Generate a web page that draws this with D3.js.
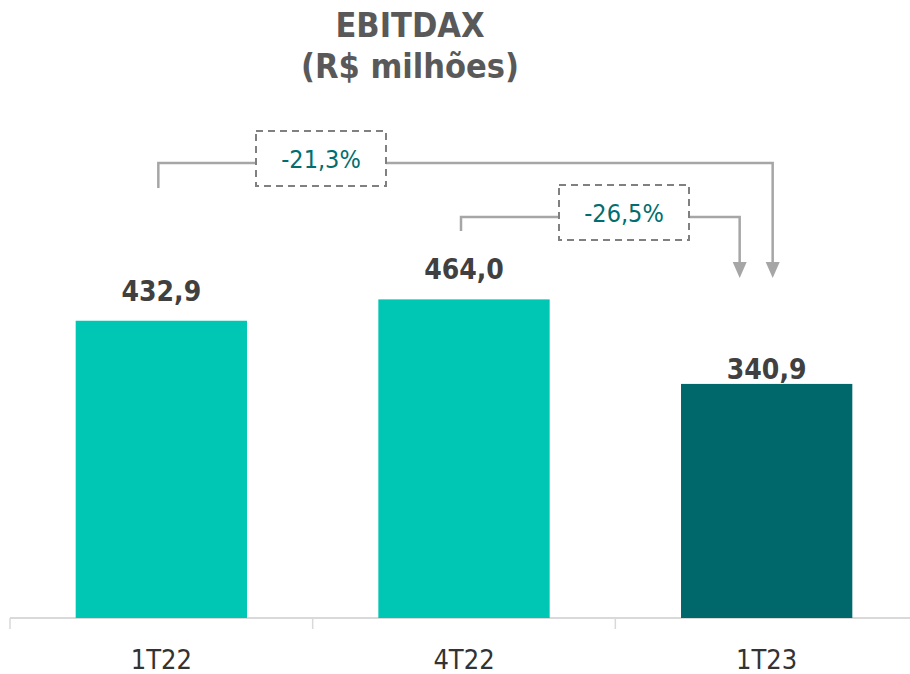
<!DOCTYPE html>
<html>
<head>
<meta charset="utf-8">
<script src="https://cdn.jsdelivr.net/npm/d3@7"></script>
<style>
    body { margin: 0; background: #fff; }
    text { font-family: "DejaVu Sans Condensed", "DejaVu Sans", sans-serif; font-stretch: condensed; }
</style>
</head>
<body>
<div id="plot"></div>
<script>
var categories = ["1T22", "4T22", "1T23"];
var values = [432.9, 464.0, 340.9];
var valueLabels = ["432,9", "464,0", "340,9"];
var changeLabels = ["-21,3%", "-26,5%"];   // 1T22 -> 1T23, 4T22 -> 1T23
var titleLines = ["EBITDAX", "(R$ milhões)"];

var W = 910, H = 674
    , baseY = 618
    , light = "#00c7b4"
    , dark = "#00686b";

var svg = d3.select("#plot").append("svg")
    .attr("width", W)
    .attr("height", H);

var x = d3.scaleBand()
    .domain(categories)
    .range([10, 918])
    .padding(0);

var barW = x.bandwidth() * 0.566;

var y = d3.scaleLinear()
    .domain([0, 900])
    .range([baseY, 0]);

function cx(c) { return x(c) + x.bandwidth() / 2; }

// title
svg.append("g").selectAll("text")
    .data(titleLines)
    .enter().append("text")
    .attr("x", 410)
    .attr("y", function (d, i) { return 37 + i * 41; })
    .attr("text-anchor", "middle")
    .style("font-size", "34px")
    .style("font-weight", "bold")
    .style("fill", "#595959")
    .text(function (d) { return d; });

// axis
var xAxis = d3.axisBottom(x).tickSize(10).tickFormat("");
var axisG = svg.append("g")
    .attr("transform", "translate(0," + baseY + ")")
    .call(xAxis);
axisG.selectAll(".tick").remove();
axisG.select(".domain").remove();
axisG.append("line")
    .attr("x1", 10).attr("x2", W)
    .attr("stroke", "#d9d9d9").attr("stroke-width", 2);
axisG.selectAll(".sep")
    .data(categories)
    .enter().append("line")
    .attr("x1", function (d) { return x(d); })
    .attr("x2", function (d) { return x(d); })
    .attr("y1", 0).attr("y2", 11)
    .attr("stroke", "#d9d9d9").attr("stroke-width", 1.5);

// bars
svg.append("g").selectAll("rect")
    .data(values)
    .enter().append("rect")
    .attr("x", function (d, i) { return cx(categories[i]) - barW / 2; })
    .attr("y", function (d) { return y(d); })
    .attr("width", barW)
    .attr("height", function (d) { return baseY - y(d); })
    .attr("fill", function (d, i) { return i == categories.length - 1 ? dark : light; });

// value labels
svg.append("g").selectAll("text")
    .data(values)
    .enter().append("text")
    .attr("x", function (d, i) { return cx(categories[i]); })
    .attr("y", function (d, i) { return y(d) - (i == categories.length - 1 ? 5 : 20); })
    .attr("text-anchor", "middle")
    .style("font-size", "28px")
    .style("font-weight", "bold")
    .style("fill", "#404040")
    .text(function (d, i) { return valueLabels[i]; });

// category labels
svg.append("g").selectAll("text")
    .data(categories)
    .enter().append("text")
    .attr("x", function (d) { return cx(d); })
    .attr("y", 669)
    .attr("text-anchor", "middle")
    .style("font-size", "27px")
    .style("fill", "#333")
    .text(function (d) { return d; });

// variation brackets
var last = categories[categories.length - 1];
var brackets = [
    { from: 0, label: changeLabels[0], lineY: 163, startY: 188, boxX: 256, arrowX: cx(last) + 6 },
    { from: 1, label: changeLabels[1], lineY: 217, startY: 231, boxX: 559, arrowX: cx(last) - 27 }
];
var boxW = 130, boxH = 55, tipY = 278;

var bg = svg.append("g");
brackets.forEach(function (b) {
    var sx = cx(categories[b.from]) - 3;
    bg.append("path")
        .attr("d", "M" + sx + "," + b.startY + "V" + b.lineY + "H" + b.boxX)
        .attr("fill", "none").attr("stroke", "#a6a6a6").attr("stroke-width", 2.5);
    bg.append("path")
        .attr("d", "M" + (b.boxX + boxW) + "," + b.lineY + "H" + b.arrowX + "V" + (tipY - 14))
        .attr("fill", "none").attr("stroke", "#a6a6a6").attr("stroke-width", 2.5);
    bg.append("path")
        .attr("d", "M" + (b.arrowX - 7) + "," + (tipY - 16) + "L" + (b.arrowX + 7) + "," + (tipY - 16) + "L" + b.arrowX + "," + tipY + "Z")
        .attr("fill", "#a6a6a6");
    bg.append("rect")
        .attr("x", b.boxX).attr("y", b.lineY - 32)
        .attr("width", boxW).attr("height", boxH)
        .attr("fill", "#fff")
        .attr("stroke", "#808080").attr("stroke-width", 2)
        .attr("stroke-dasharray", "7,5");
    bg.append("text")
        .attr("x", b.boxX + boxW / 2)
        .attr("y", b.lineY + 5)
        .attr("text-anchor", "middle")
        .style("font-size", "25px")
        .style("fill", "#006e70")
        .text(b.label);
});
</script>
</body>
</html>
